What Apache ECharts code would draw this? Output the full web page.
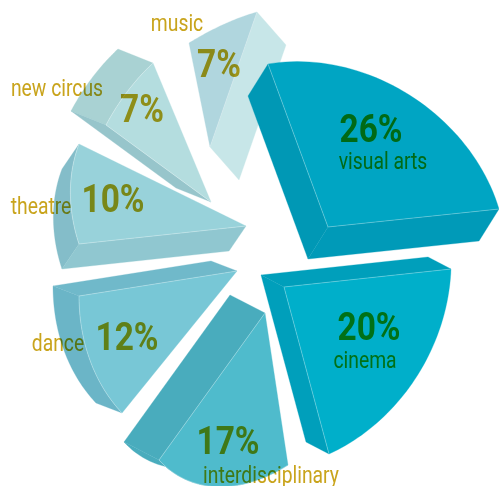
<!DOCTYPE html>
<html>
<head>
<meta charset="utf-8">
<style>
html,body{margin:0;background:#fff}
#chart{width:499px;height:486px}
/* Ink overprints the wedges: the text layer multiplies with what lies under it. */
#chart canvas + canvas{mix-blend-mode:multiply}
</style>
<script src="https://cdn.jsdelivr.net/npm/echarts@6/dist/echarts.min.js"></script>
</head>
<body>
<div id="chart"></div>
<script>
// Share of each art form, in percent, clockwise from the top.
const categories = ['visual arts', 'cinema', 'interdisciplinary', 'dance', 'theatre', 'new circus', 'music'];
const shares = [26, 20, 17, 12, 10, 7, 7];

// Each exploded wedge has its own tilt: tip, two edge vectors and extrusion vector, in chart units.
const frames = [
  { tip: [328, 227], a: [-60, -163], b: [171, -18], d: [-20, 32] },
  { tip: [284, 287], a: [167, -18], b: [45, 167], d: [-23, -12] },
  { tip: [265, 313], a: [23, 152], b: [-106, 147], d: [-35, -18] },
  { tip: [237, 271], a: [-115, 142], b: [-158, 25], d: [-26, -10] },
  { tip: [246, 226], a: [-167, 18], b: [-167, -82], d: [-17, 25] },
  { tip: [211, 202], a: [-105, -77], b: [-58, -139], d: [-35, -14] },
  { tip: [210, 147], a: [-21, -104], b: [47, -135], d: [29, 33] }
];

// Face colours; a null wall is turned away from the viewer.
const skins = [
  { top: '#00a5c3', wallA: '#0098b5', wallB: '#009ab8', rim: null },
  { top: '#00afca', wallA: '#009fbb', wallB: '#009fbb', rim: null },
  { top: '#4fbbcc', wallA: null, wallB: '#49acbd', rim: '#49acbd' },
  { top: '#78c7d6', wallA: null, wallB: '#70b9ca', rim: '#6bb5c7' },
  { top: '#98d2da', wallA: '#90c7d0', wallB: null, rim: '#84bdc9' },
  { top: '#b4dddf', wallA: '#97c5cb', wallB: null, rim: '#a9d2d3' },
  { top: '#b0d6de', wallA: null, wallB: '#c7e6e8', rim: null }
];

// Text anchors (centre x, middle y) for the percentage and the category name.
const percentAnchors = [[371, 132], [369, 330], [228, 444], [127, 340], [113, 202], [142, 112], [219, 67]];
const nameAnchors = [[383, 163], [365, 362], [271, 477], [58, 345], [41, 208], [57, 90], [177, 25]];

const INK = '#c9a41c';
const NAME_FONT = '23px Roboto, sans-serif';
const NAME_SQUEEZE = 0.84;
const PERCENT_FONT = 'bold 38px Roboto, sans-serif';
const PERCENT_SQUEEZE = 0.88;

// Points of the wedge's rim: a circular arc of the value's angle, sheared into the wedge's frame.
function rimPoints(frame, share) {
  const theta = share / 100 * 2 * Math.PI;
  const pts = [];
  const steps = 48;
  for (let i = 0; i <= steps; i++) {
    const t = theta * i / steps;
    const ka = Math.sin(theta - t) / Math.sin(theta);
    const kb = Math.sin(t) / Math.sin(theta);
    pts.push([
      frame.tip[0] + ka * frame.a[0] + kb * frame.b[0],
      frame.tip[1] + ka * frame.a[1] + kb * frame.b[1]
    ]);
  }
  return pts;
}

function shift(p, d) { return [p[0] + d[0], p[1] + d[1]]; }

function renderWedge(params, api) {
  const i = api.value(0);
  const share = api.value(1);
  const f = frames[i], s = skins[i];
  const toPx = p => api.coord(p);
  const poly = (pts, fill) => ({
    type: 'polygon',
    shape: { points: pts.map(toPx) },
    style: { fill: fill, stroke: fill, lineWidth: 0.3 }
  });
  const line = pts => ({
    type: 'polyline',
    shape: { points: pts.map(toPx) },
    style: { fill: null, stroke: 'rgba(255,255,255,0.4)', lineWidth: 0.7 }
  });
  const rim = rimPoints(f, share);
  const first = rim[0], last = rim[rim.length - 1];
  const children = [];
  if (s.rim) {
    children.push(poly(rim.concat(rim.slice().reverse().map(p => shift(p, f.d))), s.rim));
  }
  if (s.wallA) children.push(poly([f.tip, first, shift(first, f.d), shift(f.tip, f.d)], s.wallA));
  if (s.wallB) children.push(poly([f.tip, last, shift(last, f.d), shift(f.tip, f.d)], s.wallB));
  children.push(poly([f.tip].concat(rim), s.top));
  if (s.wallA) children.push(line([f.tip, first]));
  if (s.wallB) children.push(line([f.tip, last]));
  if (s.rim) children.push(line(rim));
  return { type: 'group', children: children };
}

function renderLabels(params, api) {
  const i = api.value(0);
  const txt = (p, text, font, squeeze) => {
    const c = api.coord(p);
    return {
      type: 'text',
      x: c[0], y: c[1], scaleX: squeeze,
      style: { text: text, font: font, fill: INK, align: 'center', verticalAlign: 'middle' }
    };
  };
  return {
    type: 'group',
    children: [
      txt(percentAnchors[i], shares[i] + '%', PERCENT_FONT, PERCENT_SQUEEZE),
      txt(nameAnchors[i], categories[i], NAME_FONT, NAME_SQUEEZE)
    ]
  };
}

const rows = shares.map((v, i) => [i, v]);
// The largest wedge overlaps the music wedge's wall, so the list is painted last to first.
const paintOrder = rows.slice().reverse();
const chart = echarts.init(document.getElementById('chart'), null, { renderer: 'canvas' });
chart.setOption({
  animation: false,
  backgroundColor: '#ffffff',
  grid: { left: 0, right: 0, top: 0, bottom: 0 },
  xAxis: { type: 'value', min: 0, max: 499, show: false },
  yAxis: { type: 'value', min: 0, max: 486, inverse: true, show: false },
  series: [
    { type: 'custom', coordinateSystem: 'cartesian2d', clip: false, silent: true, z: 1, data: paintOrder, renderItem: renderWedge },
    { type: 'custom', coordinateSystem: 'cartesian2d', clip: false, silent: true, zlevel: 1, z: 2, data: rows, renderItem: renderLabels }
  ]
});
</script>
</body>
</html>
